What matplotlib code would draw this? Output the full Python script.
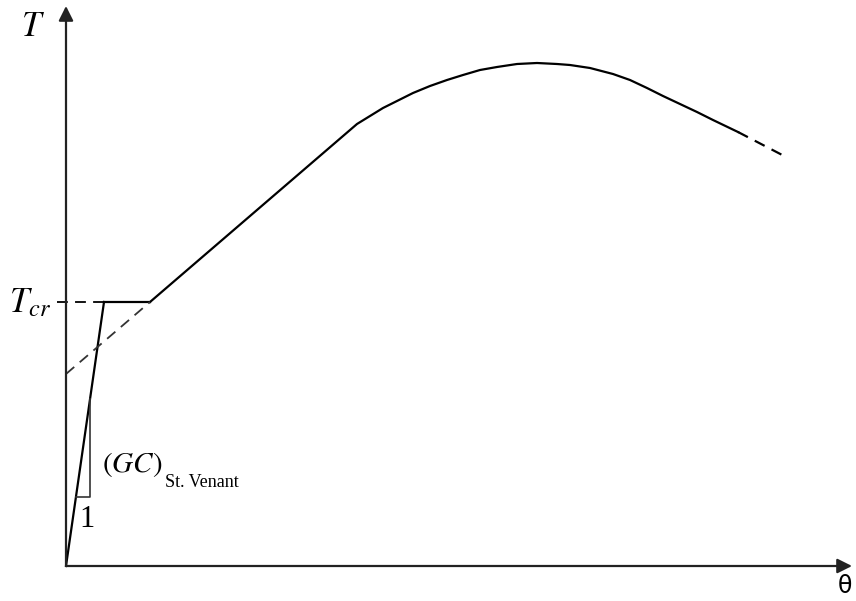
import numpy as np
import matplotlib.pyplot as plt

plt.rcParams['mathtext.fontset'] = 'stix'
plt.rcParams['font.family'] = 'Liberation Serif'

# data in drawing units (theta, T), origin at the axes corner
T_cr = 264
elastic_theta = [0, 38]
elastic_T = [0, 264]
plateau_theta = [38, 84]
plateau_T = [264, 264]
post_theta = [84, 291, 304, 317, 331, 347, 364, 381, 397, 414, 431, 451, 471,
              491, 504, 524, 547, 564, 581, 597, 614, 631, 647, 672]
post_T = [264, 442, 450, 458, 465, 473, 480, 486, 491, 496, 499, 502, 503,
          502, 501, 498, 492, 486, 478, 470, 462, 454, 446, 434]
tail_theta = [672, 722]
tail_T = [434, 408]
ext_theta = [0, 84]
ext_T = [192, 264]
# slope triangle
tri_theta = [10, 24, 24]
tri_T = [69, 69, 167]

x_max, y_max = 786, 560

fig = plt.figure(figsize=(8.56, 6.01), dpi=100)
ax = fig.add_axes([0, 0, 1, 1])
ax.set_xlim(-66, 790)
ax.set_ylim(-35, 566)
ax.axis('off')

lw = 1.6
ax.plot(elastic_theta, elastic_T, color='black', lw=lw)
ax.plot(plateau_theta, plateau_T, color='black', lw=lw)
ax.plot(post_theta, post_T, color='black', lw=lw, solid_joinstyle='round')
ax.plot(tail_theta, tail_T, color='black', lw=lw, dashes=(5, 3.5))
ax.plot(ext_theta, ext_T, color='#333333', lw=1.3, dashes=(6, 4))
ax.plot([-9, elastic_theta[1]], [T_cr, T_cr], color='black', lw=1.3, dashes=(6, 4))
ax.plot(tri_theta, tri_T, color='#333333', lw=1.2)

# axes with arrows
ax.annotate('', xy=(x_max, 0), xytext=(0, 0),
            arrowprops=dict(arrowstyle='-|>', lw=1.6, color='#222222', mutation_scale=22, shrinkA=0, shrinkB=0))
ax.annotate('', xy=(0, y_max), xytext=(0, 0),
            arrowprops=dict(arrowstyle='-|>', lw=1.6, color='#222222', mutation_scale=22, shrinkA=0, shrinkB=0))

ax.text(-33, 539, '$T$', fontsize=25, ha='center', va='center')
ax.text(-36, 262, '$T_{cr}$', fontsize=25, ha='center', va='center')
ax.text(36, 94, '$(GC)$', fontsize=21, ha='left', va='baseline')
ax.text(99, 79, 'St. Venant', fontsize=13, ha='left', va='baseline')
ax.text(21, 39, '1', fontsize=22, ha='center', va='baseline')
ax.text(779, -8, 'θ', fontsize=17, ha='center', va='top', family='DejaVu Sans')

fig.savefig('out.png', dpi=100)
